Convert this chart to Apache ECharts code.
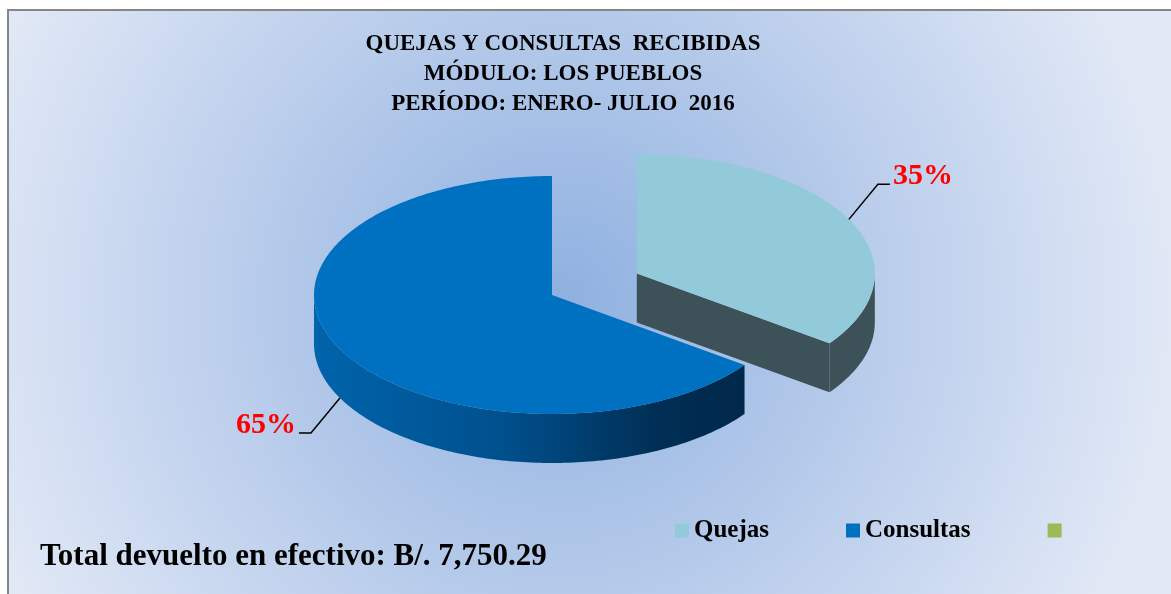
<!DOCTYPE html>
<html>
<head>
<meta charset="utf-8">
<script src="https://cdn.jsdelivr.net/npm/echarts@6/dist/echarts.min.js"></script>
<style>
  html, body { margin: 0; padding: 0; background: #fff; }
  #chart { width: 1171px; height: 594px; }
</style>
</head>
<body>
<div id="chart"></div>
<script>
  // datos
  const categories = ['Quejas', 'Consultas'];
  const values = [35, 65];
  const titleLines = ['QUEJAS Y CONSULTAS  RECIBIDAS', 'MÓDULO: LOS PUEBLOS', 'PERÍODO: ENERO- JULIO  2016'];
  const footerText = 'Total devuelto en efectivo: B/. 7,750.29';

  const total = values.reduce((a, b) => a + b, 0);
  const starts = values.map((v, i) => values.slice(0, i).reduce((a, b) => a + b, 0));

  // geometría del pastel 3D (px)
  const CX = 552, CY = 295, RX = 238, RY = 119, DEPTH = 49;
  const explode = [0.4, 0];
  const topColors = ['#92cad9', '#0070c0'];
  const cutColors = ['#3d5258', '#002a4c'];
  const sideColors = [
    '#3d5258',
    {
      type: 'linear', x: 0, y: 0, x2: 1, y2: 0,
      colorStops: [
        { offset: 0, color: '#0064ab' },
        { offset: 0.45, color: '#004f8c' },
        { offset: 0.8, color: '#002e54' },
        { offset: 1, color: '#00284a' }
      ]
    }
  ];
  const font = 'Liberation Serif';

  const rad = (d) => (d * Math.PI) / 180;
  function pt(deg, cx, cy) {
    return [cx + RX * Math.sin(rad(deg)), cy - RY * Math.cos(rad(deg))];
  }
  function arc(a, b, cx, cy) {
    const pts = [];
    const n = Math.max(2, Math.ceil(Math.abs(b - a)));
    for (let k = 0; k <= n; k++) pts.push(pt(a + ((b - a) * k) / n, cx, cy));
    return pts;
  }

  function renderSlice(idx) {
    return function (params, api) {
      const s = (api.value(0) / total) * 360;
      const e = ((api.value(0) + api.value(1)) / total) * 360;
      const m = (s + e) / 2;
      const off = explode[idx];
      const cx = CX + off * RX * Math.sin(rad(m));
      const cy = CY - off * RY * Math.cos(rad(m));
      const children = [];

      // cara de corte (inicio / fin)
      const cut = (deg) => {
        const p = pt(deg, cx, cy);
        children.push({
          type: 'polygon',
          shape: { points: [[cx, cy], p, [p[0], p[1] + DEPTH], [cx, cy + DEPTH]] },
          style: { fill: cutColors[idx] }
        });
      };
      if (Math.cos(rad(s - 90)) < -0.01) cut(s);
      if (Math.cos(rad(e + 90)) < -0.01) cut(e);

      // lateral exterior visible
      const a = Math.max(s, 90), b = Math.min(e, 270);
      if (b > a) {
        const up = arc(a, b, cx, cy);
        const down = up.map((p) => [p[0], p[1] + DEPTH]).reverse();
        children.push({
          type: 'polygon',
          shape: { points: up.concat(down) },
          style: { fill: sideColors[idx] }
        });
      }

      // cara superior
      children.push({
        type: 'polygon',
        shape: { points: [[cx, cy]].concat(arc(s, e, cx, cy)) },
        style: { fill: topColors[idx] }
      });

      // etiqueta con guía
      const lower = Math.cos(rad(m)) < 0;
      const anchor = pt(m, cx, cy);
      if (lower) anchor[1] += DEPTH;
      const sx = Math.sin(rad(m)) >= 0 ? 1 : -1;
      const sy = lower ? 1 : -1;
      const p1 = [anchor[0] + 29 * sx, anchor[1] + 35 * sy];
      const p2 = [p1[0] + 12 * sx, p1[1]];
      children.push({
        type: 'polyline',
        shape: { points: [anchor, p1, p2] },
        style: { stroke: '#000', lineWidth: 1.5, fill: null }
      });
      children.push({
        type: 'text',
        style: {
          text: Math.round((api.value(1) / total) * 100) + '%',
          x: p2[0] + 3 * sx,
          y: p2[1] - 8,
          fill: '#ff0000',
          fontSize: 30,
          fontWeight: 'bold',
          fontFamily: font,
          align: sx > 0 ? 'left' : 'right',
          verticalAlign: 'middle'
        }
      });
      return { type: 'group', children };
    };
  }

  const chart = echarts.init(document.getElementById('chart'));
  chart.setOption({
    animation: false,
    graphic: [
      {
        type: 'rect',
        z: -10,
        silent: true,
        shape: { x: 8, y: 10, width: 1200, height: 620 },
        style: {
          stroke: '#868686',
          lineWidth: 2,
          fill: {
            type: 'radial', x: 0.46, y: 0.47, r: 1.0,
            colorStops: [
              { offset: 0, color: '#8eb0e0' },
              { offset: 0.5, color: '#b8cceb' },
              { offset: 1, color: '#e2e9f6' }
            ]
          }
        }
      }
    ],
    title: [
      {
        text: titleLines.join('\n'),
        left: 563,
        top: 29,
        padding: 0,
        textAlign: 'center',
        textStyle: { fontFamily: font, fontSize: 23, fontWeight: 'bold', color: '#000', lineHeight: 30 }
      },
      {
        text: footerText,
        left: 40,
        top: 539,
        padding: 0,
        textStyle: { fontFamily: font, fontSize: 31, fontWeight: 'bold', color: '#000', lineHeight: 36 }
      }
    ],
    legend: {
      left: 675,
      top: 518,
      padding: 0,
      icon: 'rect',
      itemWidth: 14,
      itemHeight: 14,
      itemGap: 77,
      selectedMode: false,
      data: categories.concat([' ']),
      textStyle: { fontFamily: font, fontSize: 25, fontWeight: 'bold', color: '#000' }
    },
    series: categories
      .map((name, i) => ({
        name,
        type: 'custom',
        coordinateSystem: 'none',
        silent: true,
        itemStyle: { color: topColors[i] },
        renderItem: renderSlice(i),
        data: [[starts[i], values[i]]]
      }))
      .concat([
        {
          name: ' ',
          type: 'custom',
          coordinateSystem: 'none',
          itemStyle: { color: '#9bbb59' },
          renderItem: () => null,
          data: []
        }
      ])
  });
</script>
</body>
</html>
